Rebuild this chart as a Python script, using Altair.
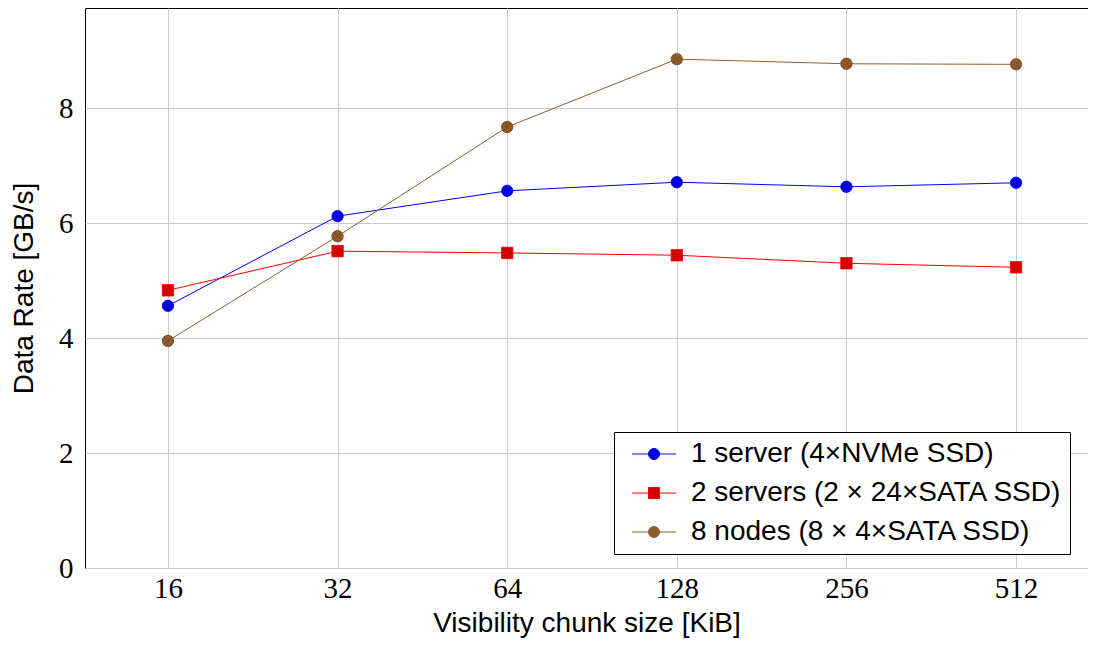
import altair as alt
import pandas as pd

sizes = [16, 32, 64, 128, 256, 512]
series_names = [
    "1 server (4×NVMe SSD)",
    "2 servers (2 × 24×SATA SSD)",
    "8 nodes (8 × 4×SATA SSD)",
]
nvme_1 = [4.56, 6.12, 6.56, 6.71, 6.63, 6.70]
sata_2 = [4.83, 5.51, 5.48, 5.44, 5.30, 5.23]
nodes_8 = [3.95, 5.77, 7.67, 8.85, 8.77, 8.76]
values = [nvme_1, sata_2, nodes_8]

line_colors = ["#0000ff", "#ff0000", "#8c5e30"]
fill_colors = ["#0000e0", "#d40000", "#8f5c2c"]
mark_strokes = ["#0000ff", "#ff0000", "#6e4420"]

CIRCLE = "M1,0A1,1,0,1,1,-1,0A1,1,0,1,1,1,0Z"
SQUARE = "M-1,-1L1,-1L1,1L-1,1Z"
XCIRCLE = CIRCLE + "M-0.7,-0.7L0.7,0.7M-0.7,0.7L0.7,-0.7"
STUB = "M-4,0L-1,0M1,0L4,0"
plot_shapes = [CIRCLE, SQUARE, XCIRCLE]
legend_shapes = [STUB + CIRCLE, STUB + SQUARE, STUB + XCIRCLE]

rows = []
for name, vals in zip(series_names, values):
    for s, v in zip(sizes, vals):
        rows.append({"series": name, "size": s, "rate": v})
df = pd.DataFrame(rows)

x_enc = alt.X(
    "size:Q",
    scale=alt.Scale(type="log", base=2, domain=[11.4, 687], nice=False, zero=False),
    axis=alt.Axis(values=sizes, title="Visibility chunk size [KiB]", format="d"),
)
y_enc = alt.Y(
    "rate:Q",
    scale=alt.Scale(domain=[0, 9.74], nice=False, zero=True),
    axis=alt.Axis(values=[0, 2, 4, 6, 8], title="Data Rate [GB/s]"),
)

layers = []
for i, name in enumerate(series_names):
    sub = df[df["series"] == name]
    layers.append(
        alt.Chart(sub).mark_line(color=line_colors[i], strokeWidth=1).encode(x=x_enc, y=y_enc)
    )
for i, name in enumerate(series_names):
    sub = df[df["series"] == name]
    layers.append(
        alt.Chart(sub).mark_point(
            shape=plot_shapes[i], filled=True, fill=fill_colors[i],
            stroke=mark_strokes[i], strokeWidth=0.8, size=130, opacity=1,
        ).encode(x=x_enc, y=y_enc)
    )

legend_layer = alt.Chart(df).mark_point(
    filled=True, clip=True, size=121, strokeWidth=1, opacity=1
).encode(
    x=alt.value(-300),
    y=alt.value(-300),
    fill=alt.Fill("series:N", scale=alt.Scale(domain=series_names, range=fill_colors),
                  legend=alt.Legend(title=None)),
    stroke=alt.Stroke("series:N", scale=alt.Scale(domain=series_names, range=line_colors),
                      legend=alt.Legend(title=None)),
    shape=alt.Shape("series:N", scale=alt.Scale(domain=series_names, range=legend_shapes),
                    legend=alt.Legend(title=None)),
)
layers.append(legend_layer)

chart = alt.layer(*layers).properties(
    width=1003,
    height=560,
    autosize=alt.AutoSizeParams(type="none"),
    padding={"left": 77, "top": 0, "right": 0, "bottom": 72},
).configure_view(
    stroke="black", strokeWidth=1
).configure_axis(
    grid=True, gridColor="#cccccc", gridWidth=1,
    domain=False, ticks=False,
    labelFont="Liberation Serif", labelFontSize=29, labelColor="black",
    titleFont="Liberation Sans", titleFontSize=28, titleFontWeight="normal", titleColor="black",
).configure_axisX(
    labelPadding=6, titlePadding=6,
).configure_axisY(
    labelPadding=12, titlePadding=20,
).configure_legend(
    orient="none", legendX=529, legendY=424,
    padding=8, strokeColor="black", fillColor="white", cornerRadius=0,
    labelFont="Liberation Sans", labelFontSize=28, labelColor="black",
    symbolSize=121, symbolOffset=18, labelOffset=23, rowPadding=11,
    symbolStrokeWidth=1, labelLimit=600,
)

chart.save("out.html", embed_options={"renderer": "svg", "actions": False})
